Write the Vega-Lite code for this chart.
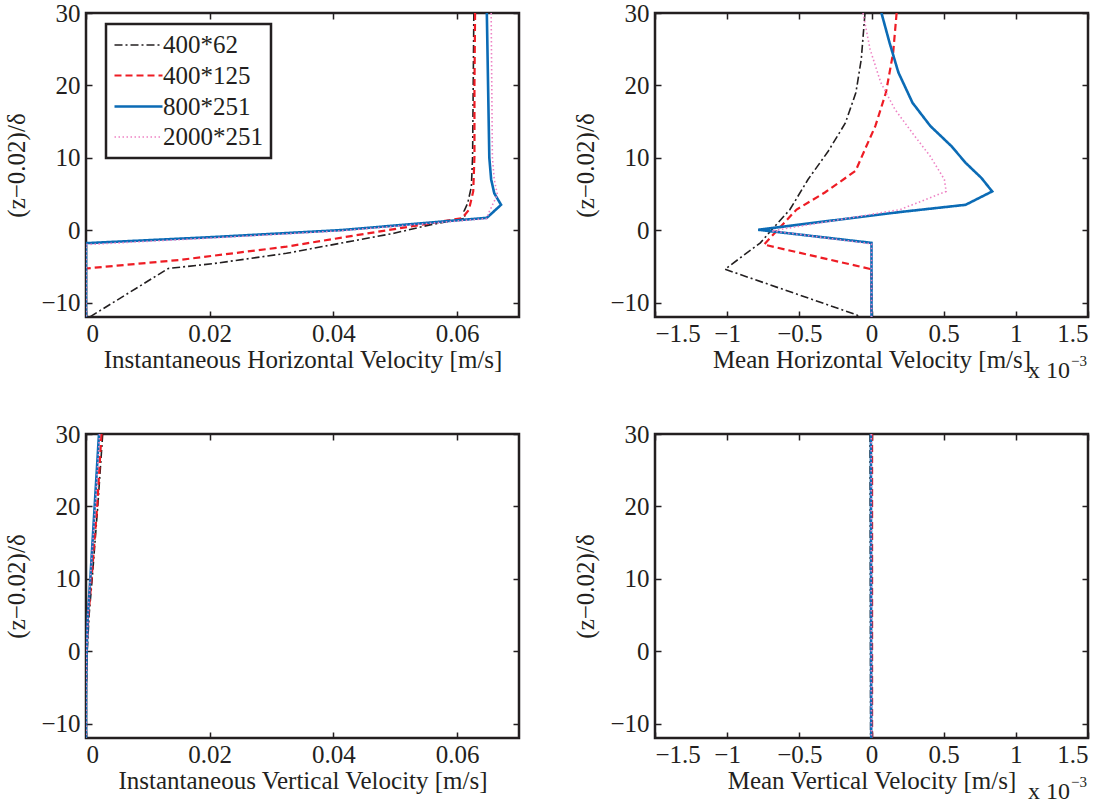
{
  "$schema": "https://vega.github.io/schema/vega-lite/v6.json",
  "background": "white",
  "padding": {"left": 3, "top": -1, "right": 5, "bottom": 5},
  "bounds": "flush",
  "columns": 2,
  "spacing": {"row": 117, "column": 136},
  "datasets": {
    "tl": [
      {"res": "400*62", "v": 0.0627, "z": 30}, {"res": "400*62", "v": 0.0626, "z": 20}, {"res": "400*62", "v": 0.0625, "z": 10.2}, {"res": "400*62", "v": 0.0623, "z": 6.0}, {"res": "400*62", "v": 0.0617, "z": 3.7}, {"res": "400*62", "v": 0.0611, "z": 2.6}, {"res": "400*62", "v": 0.0613, "z": 1.65}, {"res": "400*62", "v": 0.0556, "z": 0.73}, {"res": "400*62", "v": 0.0498, "z": -0.43}, {"res": "400*62", "v": 0.044, "z": -1.35}, {"res": "400*62", "v": 0.0324, "z": -3.2}, {"res": "400*62", "v": 0.0208, "z": -4.6}, {"res": "400*62", "v": 0.0133, "z": -5.3}, {"res": "400*62", "v": 0.0006, "z": -12},
      {"res": "400*125", "v": 0.0629, "z": 30}, {"res": "400*125", "v": 0.0628, "z": 20}, {"res": "400*125", "v": 0.0628, "z": 10.2}, {"res": "400*125", "v": 0.0626, "z": 5.35}, {"res": "400*125", "v": 0.0619, "z": 2.8}, {"res": "400*125", "v": 0.0608, "z": 1.65}, {"res": "400*125", "v": 0.044, "z": -0.66}, {"res": "400*125", "v": 0.0324, "z": -2.28}, {"res": "400*125", "v": 0.015, "z": -4.13}, {"res": "400*125", "v": 0, "z": -5.3}, {"res": "400*125", "v": 0, "z": -12},
      {"res": "800*251", "v": 0.0648, "z": 30}, {"res": "800*251", "v": 0.065, "z": 20}, {"res": "800*251", "v": 0.0652, "z": 10}, {"res": "800*251", "v": 0.0655, "z": 7.0}, {"res": "800*251", "v": 0.066, "z": 5.1}, {"res": "800*251", "v": 0.0671, "z": 3.5}, {"res": "800*251", "v": 0.0648, "z": 1.7}, {"res": "800*251", "v": 0.0411, "z": 0.0}, {"res": "800*251", "v": 0.02, "z": -0.98}, {"res": "800*251", "v": 0, "z": -1.8}, {"res": "800*251", "v": 0, "z": -12},
      {"res": "2000*251", "v": 0.0655, "z": 30}, {"res": "2000*251", "v": 0.0656, "z": 20}, {"res": "2000*251", "v": 0.0657, "z": 10}, {"res": "2000*251", "v": 0.066, "z": 7}, {"res": "2000*251", "v": 0.0665, "z": 4.9}, {"res": "2000*251", "v": 0.065, "z": 2.2}, {"res": "2000*251", "v": 0.0648, "z": 1.6}, {"res": "2000*251", "v": 0.041, "z": -0.1}, {"res": "2000*251", "v": 0.02, "z": -1.1}, {"res": "2000*251", "v": 0, "z": -2.0}, {"res": "2000*251", "v": 0, "z": -12}
    ],
    "tr": [
      {"res": "400*62", "v": -0.045, "z": 30}, {"res": "400*62", "v": -0.071, "z": 23.6}, {"res": "400*62", "v": -0.108, "z": 19.0}, {"res": "400*62", "v": -0.181, "z": 14.8}, {"res": "400*62", "v": -0.3, "z": 10.9}, {"res": "400*62", "v": -0.44, "z": 7.0}, {"res": "400*62", "v": -0.565, "z": 2.85}, {"res": "400*62", "v": -0.69, "z": 0.08}, {"res": "400*62", "v": -0.77, "z": -1.76}, {"res": "400*62", "v": -1.015, "z": -5.4}, {"res": "400*62", "v": -0.104, "z": -11.7}, {"res": "400*62", "v": -0.08, "z": -12},
      {"res": "400*125", "v": 0.174, "z": 30}, {"res": "400*125", "v": 0.15, "z": 24.5}, {"res": "400*125", "v": 0.1, "z": 19}, {"res": "400*125", "v": 0.027, "z": 14.4}, {"res": "400*125", "v": -0.04, "z": 11.4}, {"res": "400*125", "v": -0.11, "z": 8.2}, {"res": "400*125", "v": -0.323, "z": 5.2}, {"res": "400*125", "v": -0.519, "z": 2.85}, {"res": "400*125", "v": -0.745, "z": -2.0}, {"res": "400*125", "v": 0, "z": -5.4}, {"res": "400*125", "v": 0, "z": -12},
      {"res": "800*251", "v": 0.069, "z": 30}, {"res": "800*251", "v": 0.125, "z": 25.9}, {"res": "800*251", "v": 0.186, "z": 21.8}, {"res": "800*251", "v": 0.284, "z": 17.6}, {"res": "800*251", "v": 0.407, "z": 14.4}, {"res": "800*251", "v": 0.554, "z": 11.6}, {"res": "800*251", "v": 0.652, "z": 9.3}, {"res": "800*251", "v": 0.762, "z": 7.2}, {"res": "800*251", "v": 0.836, "z": 5.35}, {"res": "800*251", "v": 0.652, "z": 3.5}, {"res": "800*251", "v": 0.196, "z": 2.5}, {"res": "800*251", "v": -0.785, "z": 0.05}, {"res": "800*251", "v": 0, "z": -1.76}, {"res": "800*251", "v": 0, "z": -12},
      {"res": "2000*251", "v": -0.059, "z": 30}, {"res": "2000*251", "v": -0.01, "z": 25}, {"res": "2000*251", "v": 0.064, "z": 20.4}, {"res": "2000*251", "v": 0.162, "z": 16.7}, {"res": "2000*251", "v": 0.284, "z": 13.4}, {"res": "2000*251", "v": 0.407, "z": 10.2}, {"res": "2000*251", "v": 0.505, "z": 7.0}, {"res": "2000*251", "v": 0.517, "z": 5.35}, {"res": "2000*251", "v": 0.2, "z": 2.85}, {"res": "2000*251", "v": -0.69, "z": -0.1}, {"res": "2000*251", "v": 0, "z": -1.9}, {"res": "2000*251", "v": 0, "z": -12}
    ],
    "bl": [
      {"res": "400*62", "v": 0.0027, "z": 30}, {"res": "400*62", "v": 0.0019, "z": 20}, {"res": "400*62", "v": 0.001, "z": 10}, {"res": "400*62", "v": 0.0005, "z": 5}, {"res": "400*62", "v": 0.0002, "z": 0}, {"res": "400*62", "v": 0.00005, "z": -5}, {"res": "400*62", "v": 0, "z": -12},
      {"res": "400*125", "v": 0.0025, "z": 30}, {"res": "400*125", "v": 0.0018, "z": 20}, {"res": "400*125", "v": 0.0009, "z": 10}, {"res": "400*125", "v": 0.0004, "z": 5}, {"res": "400*125", "v": 0.0001, "z": 0}, {"res": "400*125", "v": 0, "z": -5}, {"res": "400*125", "v": 0, "z": -12},
      {"res": "800*251", "v": 0.0021, "z": 30}, {"res": "800*251", "v": 0.0014, "z": 20}, {"res": "800*251", "v": 0.0007, "z": 10}, {"res": "800*251", "v": 0.0003, "z": 5}, {"res": "800*251", "v": 0.0001, "z": 0}, {"res": "800*251", "v": 0, "z": -5}, {"res": "800*251", "v": 0, "z": -12},
      {"res": "2000*251", "v": 0.0022, "z": 30}, {"res": "2000*251", "v": 0.0015, "z": 20}, {"res": "2000*251", "v": 0.0007, "z": 10}, {"res": "2000*251", "v": 0.0003, "z": 5}, {"res": "2000*251", "v": 0.0001, "z": 0}, {"res": "2000*251", "v": 0, "z": -5}, {"res": "2000*251", "v": 0, "z": -12}
    ],
    "br": [
      {"res": "400*62", "v": -0.01, "z": 30}, {"res": "400*62", "v": -0.008, "z": 10}, {"res": "400*62", "v": -0.006, "z": -12},
      {"res": "400*125", "v": 0.004, "z": 30}, {"res": "400*125", "v": 0.004, "z": 10}, {"res": "400*125", "v": 0.004, "z": -12},
      {"res": "800*251", "v": -0.004, "z": 30}, {"res": "800*251", "v": -0.003, "z": 10}, {"res": "800*251", "v": -0.002, "z": -12},
      {"res": "2000*251", "v": -0.002, "z": 30}, {"res": "2000*251", "v": -0.002, "z": 10}, {"res": "2000*251", "v": -0.001, "z": -12}
    ],
    "note": [{"t": "x 10", "s": "−3"}]
  },
  "concat": [
    {
      "width": 433, "height": 304,
      "data": {"name": "tl"},
      "layer": [
        {
          "mark": {"type": "line", "clip": true},
          "encoding": {
            "x": {"field": "v", "type": "quantitative", "scale": {"domain": [0, 0.07], "nice": false, "zero": false}, "axis": {"orient": "bottom", "values": [0, 0.02, 0.04, 0.06], "format": "~r", "title": "Instantaneous Horizontal Velocity [m/s]"}},
            "y": {"field": "z", "type": "quantitative", "scale": {"domain": [-12, 30], "nice": false, "zero": false}, "axis": {"orient": "left", "values": [-10, 0, 10, 20, 30], "format": "~r", "title": "(z−0.02)/δ"}},
            "color": {"field": "res", "type": "nominal", "sort": null, "scale": {"domain": ["400*62", "400*125", "800*251", "2000*251"], "range": ["#231f20", "#ee1c24", "#0b6bb5", "#ee82c4"]},
              "legend": {"orient": "none", "legendX": 20, "legendY": 11, "title": null, "symbolType": "M-2,0H2", "symbolSize": 576, "symbolStrokeWidth": 2, "labelFontSize": 25, "labelFont": "Liberation Serif", "labelColor": "#231f20", "labelOffset": 11, "rowPadding": 4, "padding": 8, "symbolOffset": 11, "strokeColor": "#231f20", "fillColor": "white", "labelExpr": "datum.label + '\u00a0\u00a0'", "encode": {"legend": {"update": {"strokeWidth": {"value": 2.5}}}}}},
            "strokeDash": {"field": "res", "type": "nominal", "sort": null, "scale": {"domain": ["400*62", "400*125", "800*251", "2000*251"], "range": [[8, 3, 2, 3], [7, 4], [1, 0], [1.5, 2.5]]},
              "legend": {"orient": "none", "legendX": 20, "legendY": 11, "title": null, "symbolType": "M-2,0H2", "symbolSize": 576, "symbolStrokeWidth": 2, "labelFontSize": 25, "labelFont": "Liberation Serif", "labelColor": "#231f20", "labelOffset": 11, "rowPadding": 4, "padding": 8, "symbolOffset": 11, "strokeColor": "#231f20", "fillColor": "white", "labelExpr": "datum.label + '\u00a0\u00a0'", "encode": {"legend": {"update": {"strokeWidth": {"value": 2.5}}}}}},
            "strokeWidth": {"field": "res", "type": "nominal", "sort": null, "scale": {"type": "ordinal", "domain": ["400*62", "400*125", "800*251", "2000*251"], "range": [1.6, 2.2, 2.6, 1.6]}, "legend": null},
            "order": {"field": "z", "sort": "descending"}
          }
        },
        {
          "mark": {"type": "point", "opacity": 0},
          "encoding": {
            "x": {"field": "v", "type": "quantitative", "axis": {"orient": "top", "values": [0, 0.02, 0.04, 0.06], "labels": false, "title": null}},
            "y": {"field": "z", "type": "quantitative", "axis": {"orient": "right", "values": [-10, 0, 10, 20, 30], "labels": false, "title": null}}
          }
        }
      ],
      "resolve": {"axis": {"x": "independent", "y": "independent"}}
    },
    {
      "width": 433, "height": 304,
      "data": {"name": "tr"},
      "layer": [
        {
          "mark": {"type": "line", "clip": true},
          "encoding": {
            "x": {"field": "v", "type": "quantitative", "scale": {"domain": [-1.5, 1.5], "nice": false, "zero": false}, "axis": {"orient": "bottom", "values": [-1.5, -1, -0.5, 0, 0.5, 1, 1.5], "format": "~r", "title": "Mean Horizontal Velocity [m/s]"}},
            "y": {"field": "z", "type": "quantitative", "scale": {"domain": [-12, 30], "nice": false, "zero": false}, "axis": {"orient": "left", "values": [-10, 0, 10, 20, 30], "format": "~r", "title": "(z−0.02)/δ"}},
            "color": {"field": "res", "type": "nominal", "sort": null, "scale": {"domain": ["400*62", "400*125", "800*251", "2000*251"], "range": ["#231f20", "#ee1c24", "#0b6bb5", "#ee82c4"]}, "legend": null},
            "strokeDash": {"field": "res", "type": "nominal", "sort": null, "scale": {"domain": ["400*62", "400*125", "800*251", "2000*251"], "range": [[8, 3, 2, 3], [7, 4], [1, 0], [1.5, 2.5]]}, "legend": null},
            "strokeWidth": {"field": "res", "type": "nominal", "sort": null, "scale": {"type": "ordinal", "domain": ["400*62", "400*125", "800*251", "2000*251"], "range": [1.6, 2.2, 2.6, 1.6]}, "legend": null},
            "order": {"field": "z", "sort": "descending"}
          }
        },
        {
          "mark": {"type": "point", "opacity": 0},
          "encoding": {
            "x": {"field": "v", "type": "quantitative", "axis": {"orient": "top", "values": [-1.5, -1, -0.5, 0, 0.5, 1, 1.5], "labels": false, "title": null}},
            "y": {"field": "z", "type": "quantitative", "axis": {"orient": "right", "values": [-10, 0, 10, 20, 30], "labels": false, "title": null}}
          }
        },
        {
          "data": {"name": "note"},
          "mark": {"type": "text", "align": "right", "baseline": "alphabetic", "dx": -18, "dy": 61, "fontSize": 24, "font": "Liberation Serif", "color": "#231f20"},
          "encoding": {"text": {"field": "t"}, "x": {"datum": 1.5, "type": "quantitative", "axis": null}, "y": {"datum": -12, "type": "quantitative", "axis": null}}
        },
        {
          "data": {"name": "note"},
          "mark": {"type": "text", "align": "left", "baseline": "alphabetic", "dx": -17, "dy": 49, "fontSize": 15, "font": "Liberation Serif", "color": "#231f20"},
          "encoding": {"text": {"field": "s"}, "x": {"datum": 1.5, "type": "quantitative", "axis": null}, "y": {"datum": -12, "type": "quantitative", "axis": null}}
        }
      ],
      "resolve": {"axis": {"x": "independent", "y": "independent"}}
    },
    {
      "width": 433, "height": 304,
      "data": {"name": "bl"},
      "layer": [
        {
          "mark": {"type": "line", "clip": true},
          "encoding": {
            "x": {"field": "v", "type": "quantitative", "scale": {"domain": [0, 0.07], "nice": false, "zero": false}, "axis": {"orient": "bottom", "values": [0, 0.02, 0.04, 0.06], "format": "~r", "title": "Instantaneous Vertical Velocity [m/s]"}},
            "y": {"field": "z", "type": "quantitative", "scale": {"domain": [-12, 30], "nice": false, "zero": false}, "axis": {"orient": "left", "values": [-10, 0, 10, 20, 30], "format": "~r", "title": "(z−0.02)/δ"}},
            "color": {"field": "res", "type": "nominal", "sort": null, "scale": {"domain": ["400*62", "400*125", "800*251", "2000*251"], "range": ["#231f20", "#ee1c24", "#0b6bb5", "#ee82c4"]}, "legend": null},
            "strokeDash": {"field": "res", "type": "nominal", "sort": null, "scale": {"domain": ["400*62", "400*125", "800*251", "2000*251"], "range": [[8, 3, 2, 3], [7, 4], [1, 0], [1.5, 2.5]]}, "legend": null},
            "strokeWidth": {"field": "res", "type": "nominal", "sort": null, "scale": {"type": "ordinal", "domain": ["400*62", "400*125", "800*251", "2000*251"], "range": [1.6, 2.2, 2.6, 1.6]}, "legend": null},
            "order": {"field": "z", "sort": "descending"}
          }
        },
        {
          "mark": {"type": "point", "opacity": 0},
          "encoding": {
            "x": {"field": "v", "type": "quantitative", "axis": {"orient": "top", "values": [0, 0.02, 0.04, 0.06], "labels": false, "title": null}},
            "y": {"field": "z", "type": "quantitative", "axis": {"orient": "right", "values": [-10, 0, 10, 20, 30], "labels": false, "title": null}}
          }
        }
      ],
      "resolve": {"axis": {"x": "independent", "y": "independent"}}
    },
    {
      "width": 433, "height": 304,
      "data": {"name": "br"},
      "layer": [
        {
          "mark": {"type": "line", "clip": true},
          "encoding": {
            "x": {"field": "v", "type": "quantitative", "scale": {"domain": [-1.5, 1.5], "nice": false, "zero": false}, "axis": {"orient": "bottom", "values": [-1.5, -1, -0.5, 0, 0.5, 1, 1.5], "format": "~r", "title": "Mean Vertical Velocity [m/s]"}},
            "y": {"field": "z", "type": "quantitative", "scale": {"domain": [-12, 30], "nice": false, "zero": false}, "axis": {"orient": "left", "values": [-10, 0, 10, 20, 30], "format": "~r", "title": "(z−0.02)/δ"}},
            "color": {"field": "res", "type": "nominal", "sort": null, "scale": {"domain": ["400*62", "400*125", "800*251", "2000*251"], "range": ["#231f20", "#ee1c24", "#0b6bb5", "#ee82c4"]}, "legend": null},
            "strokeDash": {"field": "res", "type": "nominal", "sort": null, "scale": {"domain": ["400*62", "400*125", "800*251", "2000*251"], "range": [[8, 3, 2, 3], [7, 4], [1, 0], [1.5, 2.5]]}, "legend": null},
            "strokeWidth": {"field": "res", "type": "nominal", "sort": null, "scale": {"type": "ordinal", "domain": ["400*62", "400*125", "800*251", "2000*251"], "range": [1.6, 2.2, 2.6, 1.6]}, "legend": null},
            "order": {"field": "z", "sort": "descending"}
          }
        },
        {
          "mark": {"type": "point", "opacity": 0},
          "encoding": {
            "x": {"field": "v", "type": "quantitative", "axis": {"orient": "top", "values": [-1.5, -1, -0.5, 0, 0.5, 1, 1.5], "labels": false, "title": null}},
            "y": {"field": "z", "type": "quantitative", "axis": {"orient": "right", "values": [-10, 0, 10, 20, 30], "labels": false, "title": null}}
          }
        },
        {
          "data": {"name": "note"},
          "mark": {"type": "text", "align": "right", "baseline": "alphabetic", "dx": -18, "dy": 61, "fontSize": 24, "font": "Liberation Serif", "color": "#231f20"},
          "encoding": {"text": {"field": "t"}, "x": {"datum": 1.5, "type": "quantitative", "axis": null}, "y": {"datum": -12, "type": "quantitative", "axis": null}}
        },
        {
          "data": {"name": "note"},
          "mark": {"type": "text", "align": "left", "baseline": "alphabetic", "dx": -17, "dy": 49, "fontSize": 15, "font": "Liberation Serif", "color": "#231f20"},
          "encoding": {"text": {"field": "s"}, "x": {"datum": 1.5, "type": "quantitative", "axis": null}, "y": {"datum": -12, "type": "quantitative", "axis": null}}
        }
      ],
      "resolve": {"axis": {"x": "independent", "y": "independent"}}
    }
  ],
  "resolve": {
    "scale": {"color": "independent", "strokeDash": "independent", "strokeWidth": "independent"},
    "legend": {"color": "independent", "strokeDash": "independent", "strokeWidth": "independent"}
  },
  "config": {
    "view": {"stroke": "#231f20", "strokeWidth": 2.5},
    "font": "Liberation Serif",
    "axis": {
      "grid": false, "domain": false,
      "labelFont": "Liberation Serif", "labelFontSize": 25, "labelColor": "#231f20",
      "titleFont": "Liberation Serif", "titleFontSize": 25, "titleFontWeight": "normal", "titleColor": "#231f20",
      "tickColor": "#231f20", "tickWidth": 1.5, "tickSize": -6, "labelPadding": 12, "titlePadding": 0
    },
    "axisLeft": {"titlePadding": 11},
    "axisBottom": {"titlePadding": 1, "labelPadding": 10}
  }
}
